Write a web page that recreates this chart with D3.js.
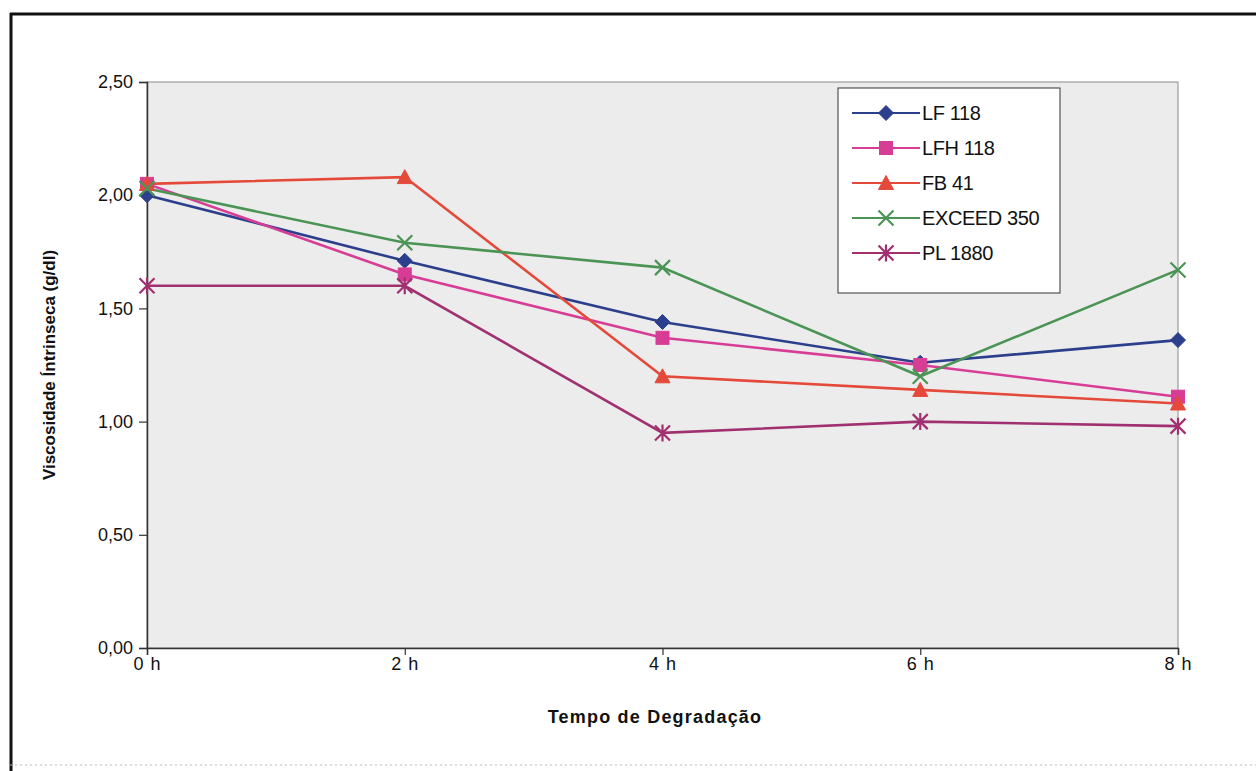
<!DOCTYPE html>
<html>
<head>
<meta charset="utf-8">
<script src="https://cdn.jsdelivr.net/npm/d3@7"></script>
<style>
  html, body { margin: 0; padding: 0; background: #ffffff; }
  svg { display: block; }
  text { font-family: "Liberation Sans", Arial, sans-serif; fill: #111; }
</style>
</head>
<body>
<svg id="chart" width="1256" height="771"></svg>
<script>
// Degradation time categories
const categories = ["0 h", "2 h", "4 h", "6 h", "8 h"];

// Intrinsic viscosity (g/dl) for each resin
const lf118     = [2.00, 1.71, 1.44, 1.26, 1.36];
const lfh118    = [2.05, 1.65, 1.37, 1.25, 1.11];
const fb41      = [2.05, 2.08, 1.20, 1.14, 1.08];
const exceed350 = [2.03, 1.79, 1.68, 1.20, 1.67];
const pl1880    = [1.60, 1.60, 0.95, 1.00, 0.98];

const seriesNames = ["LF 118", "LFH 118", "FB 41", "EXCEED 350", "PL 1880"];
const yTicks = [0, 0.5, 1.0, 1.5, 2.0, 2.5];

const series = [
  { name: seriesNames[0], values: lf118,     color: "#2c3f8c", marker: "diamond" },
  { name: seriesNames[1], values: lfh118,    color: "#d83d96", marker: "square" },
  { name: seriesNames[2], values: fb41,      color: "#e4493a", marker: "triangle" },
  { name: seriesNames[3], values: exceed350, color: "#4b9455", marker: "cross" },
  { name: seriesNames[4], values: pl1880,    color: "#a03070", marker: "star" }
];

const svg = d3.select("#chart");
const plot = { left: 147, top: 82, right: 1178, bottom: 648 };
const font = "'Liberation Sans', Arial, sans-serif";

// Outer frame
svg.append("line").attr("x1", 10).attr("y1", 14).attr("x2", 1256).attr("y2", 14)
  .attr("stroke", "#111").attr("stroke-width", 3);
svg.append("line").attr("x1", 11).attr("y1", 13).attr("x2", 11).attr("y2", 771)
  .attr("stroke", "#111").attr("stroke-width", 3);
svg.append("line").attr("x1", 10).attr("y1", 765).attr("x2", 1256).attr("y2", 765)
  .attr("stroke", "#bbb").attr("stroke-width", 1).attr("stroke-dasharray", "2,3");

const x = d3.scalePoint().domain(categories).range([plot.left, plot.right]);
const y = d3.scaleLinear().domain([0, 2.5]).range([plot.bottom, plot.top]);

// Plot area
svg.append("rect")
  .attr("x", plot.left).attr("y", plot.top)
  .attr("width", plot.right - plot.left).attr("height", plot.bottom - plot.top)
  .attr("fill", "#ececec").attr("stroke", "#8a8a8a").attr("stroke-width", 1);

// Y axis
const yAxis = d3.axisLeft(y).tickValues(yTicks).tickSize(8).tickPadding(6)
  .tickFormat(d => d3.format(".2f")(d).replace(".", ","));
const gy = svg.append("g").attr("transform", `translate(${plot.left},0)`).call(yAxis);
gy.select(".domain").attr("stroke", "#333").attr("stroke-width", 1.5);
gy.selectAll(".tick line").attr("stroke", "#333").attr("stroke-width", 1.2);
gy.selectAll(".tick text").attr("font-size", 18).attr("fill", "#111").style("font-family", font);

// X axis
const xAxis = d3.axisBottom(x).tickSize(7).tickPadding(2);
const gx = svg.append("g").attr("transform", `translate(0,${plot.bottom})`).call(xAxis);
gx.select(".domain").attr("stroke", "#333").attr("stroke-width", 1.5);
gx.selectAll(".tick line").attr("stroke", "#333").attr("stroke-width", 1.2);
gx.selectAll(".tick text").attr("font-size", 18).attr("fill", "#111")
  .attr("letter-spacing", 1).style("font-family", font);

// Axis titles
svg.append("text")
  .attr("x", 655).attr("y", 723)
  .attr("text-anchor", "middle").attr("font-size", 18).attr("font-weight", "bold")
  .attr("letter-spacing", 1.2)
  .text("Tempo de Degradação");
svg.append("text")
  .attr("transform", `translate(55,${(plot.top + plot.bottom) / 2}) rotate(-90)`)
  .attr("text-anchor", "middle").attr("font-size", 17).attr("font-weight", "bold")
  .text("Viscosidade Íntrinseca (g/dl)");

// Marker drawing
function drawMarker(g, type, color) {
  switch (type) {
    case "diamond":
      g.append("path").attr("d", "M0,-7.5L7.5,0L0,7.5L-7.5,0Z").attr("fill", color).attr("stroke", color);
      break;
    case "square":
      g.append("rect").attr("x", -6.5).attr("y", -6.5).attr("width", 13).attr("height", 13)
        .attr("fill", color).attr("stroke", color);
      break;
    case "triangle":
      g.append("path").attr("d", "M0,-7.5L7.5,6.5L-7.5,6.5Z").attr("fill", color).attr("stroke", color);
      break;
    case "cross":
      g.append("path").attr("d", "M-7.5,-7.5L7.5,7.5M-7.5,7.5L7.5,-7.5").attr("stroke", color)
        .attr("stroke-width", 2.2).attr("fill", "none");
      break;
    case "star":
      g.append("path").attr("d", "M-7.5,-7.5L7.5,7.5M-7.5,7.5L7.5,-7.5M0,-8.5L0,8.5").attr("stroke", color)
        .attr("stroke-width", 2.2).attr("fill", "none");
      break;
  }
}

const line = d3.line().x((d, i) => x(categories[i])).y(d => y(d));

series.forEach(s => {
  svg.append("path").datum(s.values)
    .attr("d", line).attr("fill", "none")
    .attr("stroke", s.color).attr("stroke-width", 2.6);
});
series.forEach(s => {
  s.values.forEach((v, i) => {
    const g = svg.append("g").attr("transform", `translate(${x(categories[i])},${y(v)})`);
    drawMarker(g, s.marker, s.color);
  });
});

// Legend
const legend = svg.append("g").attr("transform", "translate(838,88)");
legend.append("rect").attr("width", 222).attr("height", 205)
  .attr("fill", "#ffffff").attr("stroke", "#333").attr("stroke-width", 1);
series.forEach((s, i) => {
  const ly = 25 + i * 35;
  legend.append("line").attr("x1", 14).attr("x2", 82).attr("y1", ly).attr("y2", ly)
    .attr("stroke", s.color).attr("stroke-width", 2);
  const g = legend.append("g").attr("transform", `translate(48,${ly})`);
  drawMarker(g, s.marker, s.color);
  legend.append("text").attr("x", 84).attr("y", ly + 7)
    .attr("font-size", 20).attr("letter-spacing", -0.4).text(s.name);
});
</script>
</body>
</html>
